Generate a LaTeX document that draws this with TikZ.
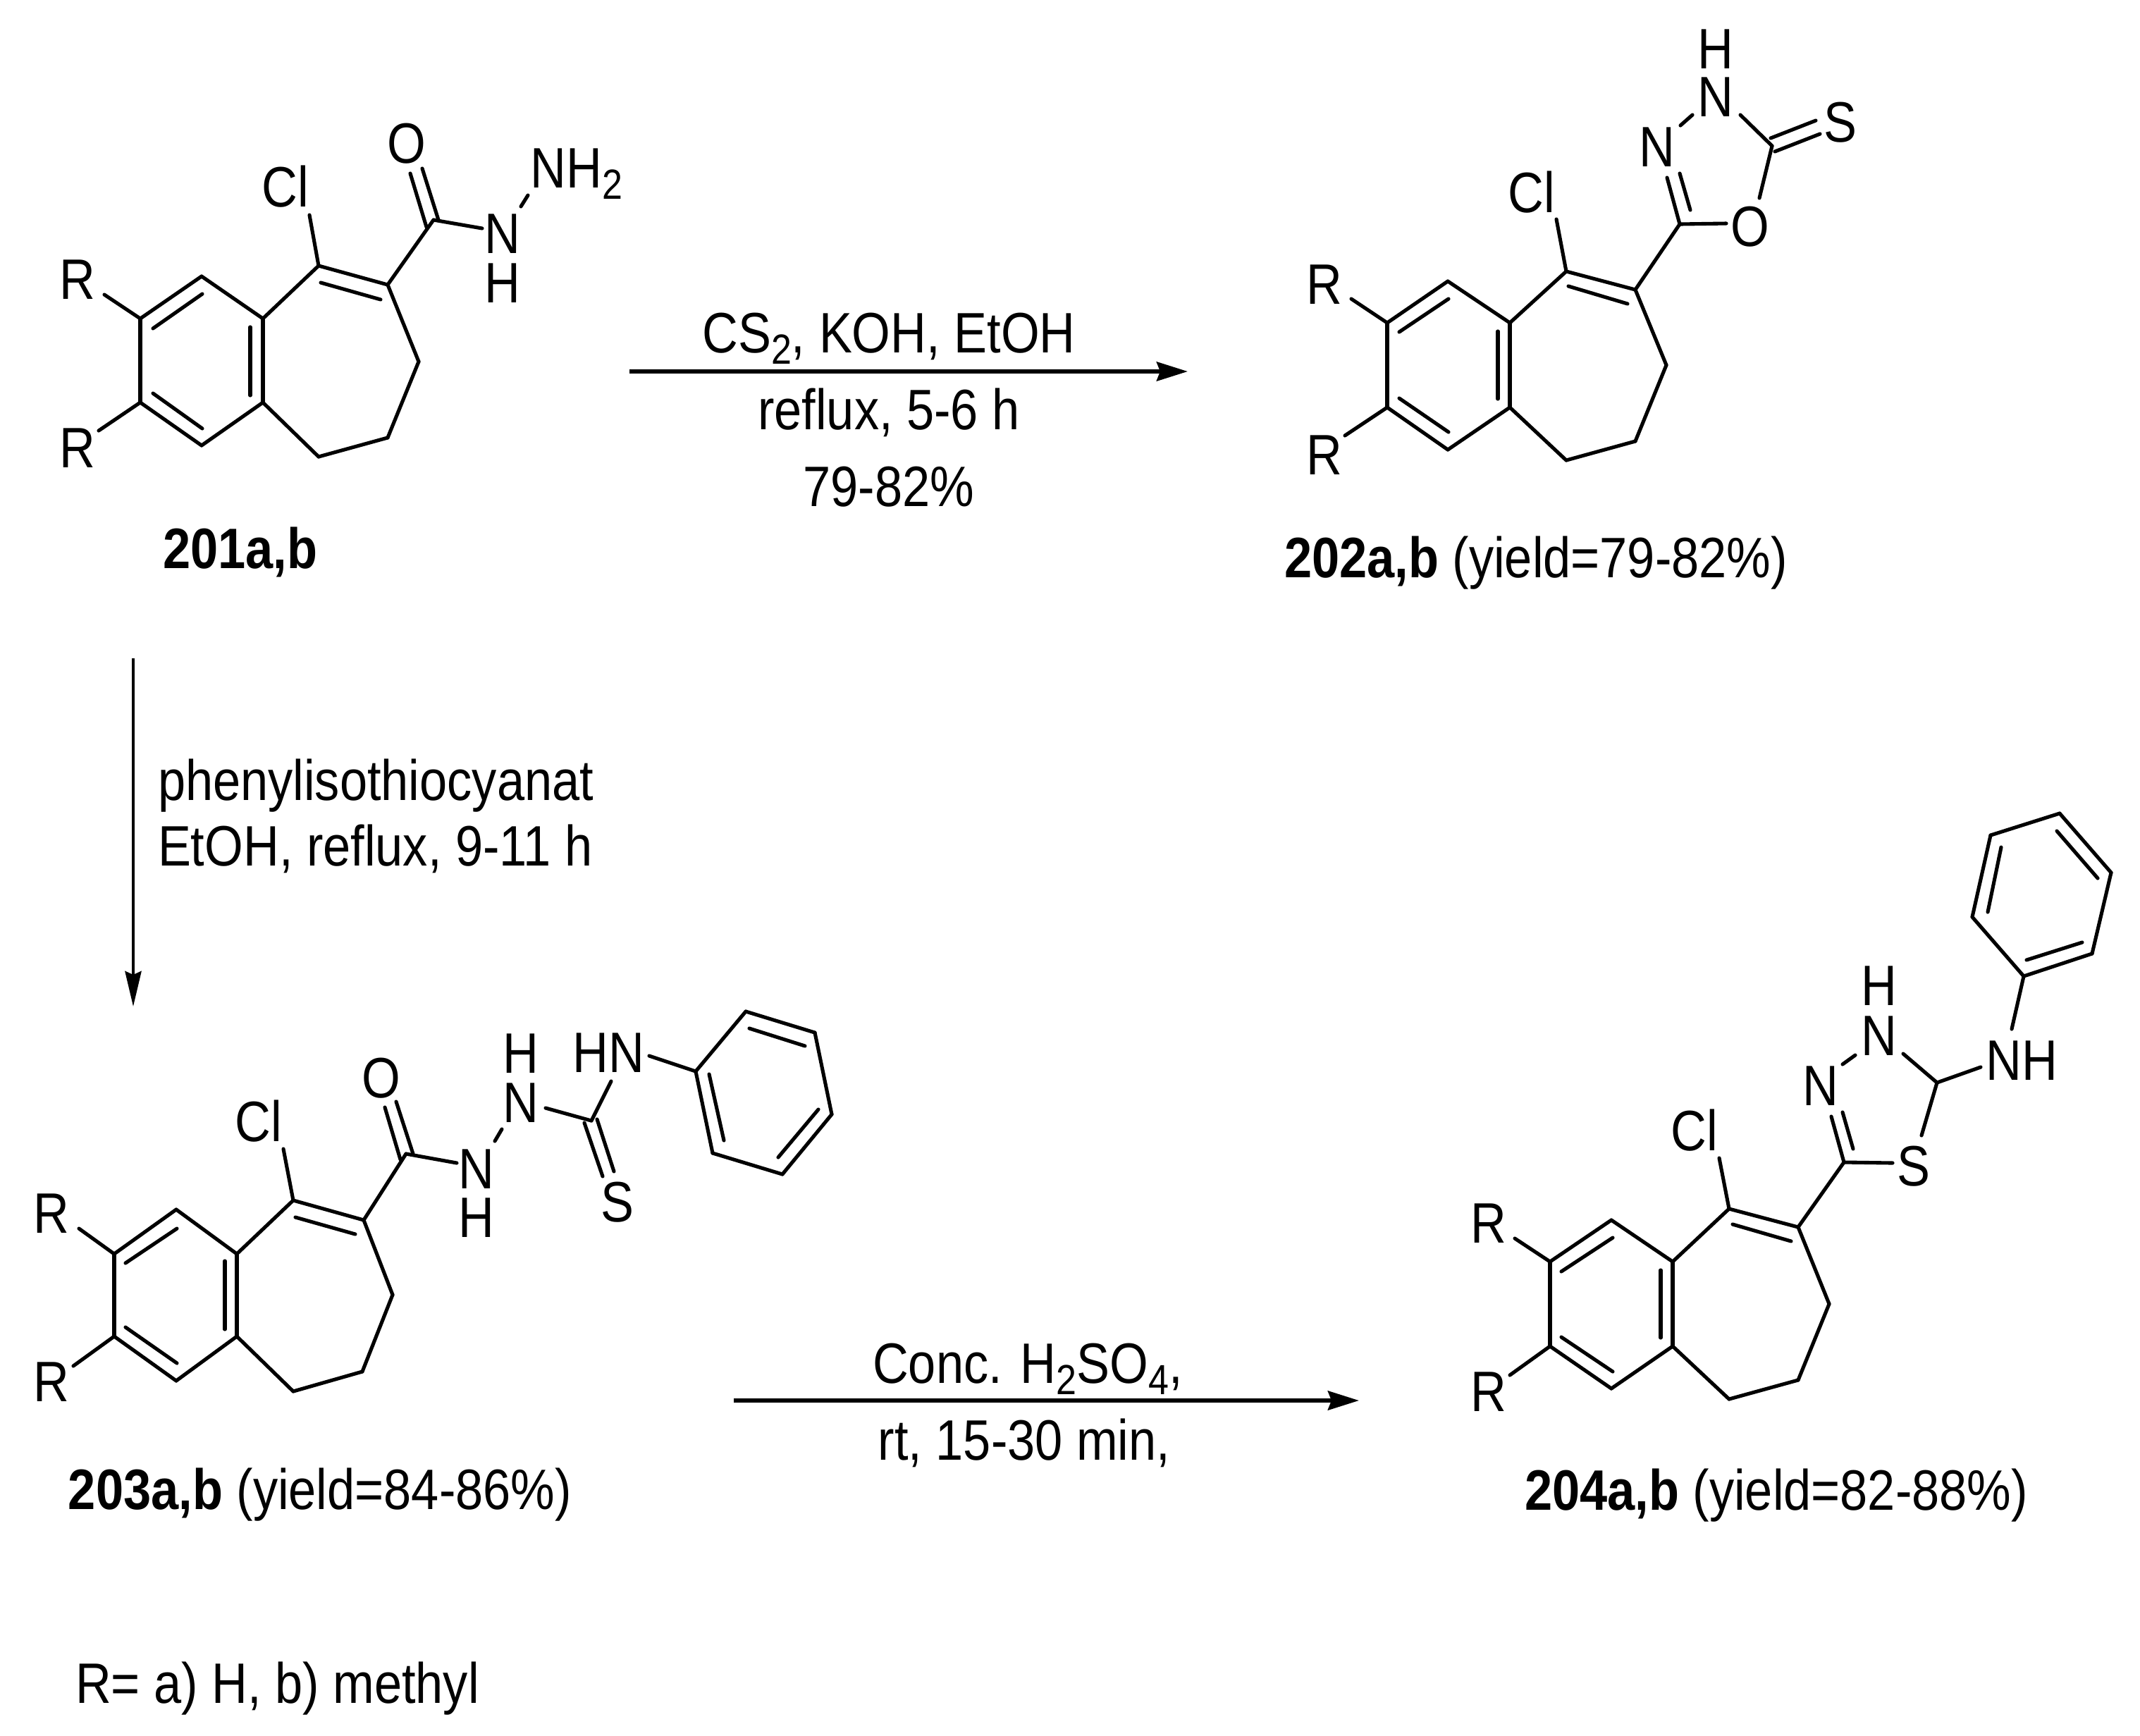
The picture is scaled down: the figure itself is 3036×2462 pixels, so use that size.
\documentclass[tikz,border=0pt]{standalone}
\usepackage{fontspec}
\usepackage{graphicx}
\setmainfont{Liberation Sans}
\usetikzlibrary{arrows.meta}
\newcommand\T[1]{\scalebox{.87}[1]{#1}}
\newcommand\Sub[1]{\raisebox{-4.6pt}{\fontsize{17}{17}\selectfont #1}}
\tikzset{
  bond/.style={line width=1.45pt,line cap=round,line join=round,black},
  rxnh/.style={line width=1.65pt,black,-{Stealth[length=0.44cm,width=0.27cm,inset=0.05cm]}},
  rxnv/.style={line width=1.3pt,black,-{Stealth[length=0.5cm,width=0.23cm,inset=0.05cm]}},
  txt/.style={font=\fontsize{23}{27}\selectfont,inner sep=0pt,outer sep=0pt,text=black},
  atom/.style={txt,anchor=base,yshift=-0.285cm},
  base w/.style={txt,anchor=base west},
  base c/.style={txt,anchor=base}
}
\begin{document}
\begin{tikzpicture}[x=0.01cm,y=-0.01cm]
\useasboundingbox (0,0) rectangle (3036,2462);
\fill[white] (0,0) rectangle (3036,2462);

% ---------- 201 ----------
\foreach \n/\x/\y in {a1/199/452,a2/286/392,a3/373/452,a4/373/571,a5/286/632,a6/199/571,a7/452/377,a8/550/404,a9/594/513,a10/550/621,a11/452/648,a12/615/312,
 ar1/148/418,ar2/140/611,acl/439/305,ai1/217/466,ai2/287/417,ai3/217/558,ai4/287/608,ai5/355/464,ai6/355/561,ai7/455/401,ai8/540/425,
 ao1/582/246,ao2/605/322,ao3/599/239,ao4/622/312,an1/684/324,ann1/739/293,ann2/749/277}
  \coordinate (\n) at (\x,\y);
\foreach \p/\q in {a1/a2,a2/a3,a3/a4,a4/a5,a5/a6,a6/a1,a3/a7,a7/a8,a8/a9,a9/a10,a10/a11,a11/a4,a8/a12,a1/ar1,a6/ar2,a7/acl,ai1/ai2,ai3/ai4,ai5/ai6,ai7/ai8,ao1/ao2,ao3/ao4,a12/an1,ann1/ann2}
  \draw[bond] (\p)--(\q);
\node[atom] (aR1) at (110,396) {\T{R}};
\node[atom] (aR2) at (110,635) {\T{R}};
\node[atom] (aCl) at (405,265) {\T{Cl}};
\node[atom] (aO) at (577,203) {\T{O}};
\node[atom] (aN) at (713,331) {\T{N}};
\node[atom] (aH) at (713,401) {\T{H}};
\node[atom] (aNH2) at (818,238) {\T{NH\Sub{2}}};
\node[base c] (alab) at (341,806) {\T{\textbf{201a,b}}};

% ---------- 202 ----------
\foreach \n/\x/\y in {b1/1968/458,b2/2054/399,b3/2142/458,b4/2142/578,b5/2054/638,b6/1968/578,b7/2222/385,b8/2320/411,b9/2364/518,b10/2320/626,b11/2222/653,b12/2383/318,b13/2514/207,
 br1/1917/424,br2/1908/618,bcl/2208/311,bi1/1985/471,bi2/2055/424,bi3/1985/565,bi4/2055/613,bi5/2125/470,bi6/2125/566,bi7/2225/406,bi8/2309/431,
 bo1/2449/317,bo2/2496/281,bn1/2469/163,bnn1/2384/178,bnn2/2401/163,bd1/2365/252,bd2/2398/298,bd3/2383/246,
 bs1/2512/196,bs2/2576/171,bs3/2518/215,bs4/2582/190}
  \coordinate (\n) at (\x,\y);
\foreach \p/\q in {b1/b2,b2/b3,b3/b4,b4/b5,b5/b6,b6/b1,b3/b7,b7/b8,b8/b9,b9/b10,b10/b11,b11/b4,b8/b12,b1/br1,b6/br2,b7/bcl,bi1/bi2,bi3/bi4,bi5/bi6,bi7/bi8,b12/bo1,bo2/b13,b13/bn1,bnn1/bnn2,b12/bd1,bd2/bd3,bs1/bs2,bs3/bs4}
  \draw[bond] (\p)--(\q);
\node[atom] (bR1) at (1879,403) {\T{R}};
\node[atom] (bR2) at (1879,645) {\T{R}};
\node[atom] (bCl) at (2173,273) {\T{Cl}};
\node[atom] (bO) at (2483,321) {\T{O}};
\node[atom] (bS) at (2611,173) {\T{S}};
\node[atom] (bN) at (2434,137) {\T{N}};
\node[atom] (bH) at (2434,69) {\T{H}};
\node[atom] (bN2) at (2351,208) {\T{N}};
\node[base w] (blab) at (1822,819) {\T{\textbf{202a,b} (yield=79-82\%)}};

% ---------- 203 ----------
\foreach \n/\x/\y in {c1/162/1779,c2/250/1716,c3/336/1779,c4/336/1896,c5/250/1959,c6/162/1896,c7/416/1703,c8/516/1731,c9/557/1837,c10/514/1946,c11/416/1974,c12/576/1637,c13/839/1590,
 cr1/112/1743,cr2/104/1938,ccl/402/1630,ci1/178/1792,ci2/251/1743,ci3/178/1883,ci4/251/1934,ci5/319/1789,ci6/319/1886,ci7/419/1727,ci8/504/1751,
 co1/546/1571,co2/568/1645,co3/562/1563,co4/586/1637,cn1/648/1650,cnn1/702/1619,cnn2/712/1602,cn2/774/1572,cn3/867/1534,
 cs1/829/1593,cs2/855/1669,cs3/847/1588,cs4/871/1662,cn4/921/1498,
 p1/987/1520,p2/1058/1435,p3/1156/1465,p4/1180/1581,p5/1110/1666,p6/1011/1636,
 pi1/1006/1524,pi2/1027/1618,pi3/1063/1459,pi4/1142/1484,pi5/1161/1574,pi6/1104/1642}
  \coordinate (\n) at (\x,\y);
\foreach \p/\q in {c1/c2,c2/c3,c3/c4,c4/c5,c5/c6,c6/c1,c3/c7,c7/c8,c8/c9,c9/c10,c10/c11,c11/c4,c8/c12,c1/cr1,c6/cr2,c7/ccl,ci1/ci2,ci3/ci4,ci5/ci6,ci7/ci8,co1/co2,co3/co4,c12/cn1,cnn1/cnn2,cn2/c13,cn3/c13,cs1/cs2,cs3/cs4,cn4/p1,p1/p2,p2/p3,p3/p4,p4/p5,p5/p6,p6/p1,pi1/pi2,pi3/pi4,pi5/pi6}
  \draw[bond] (\p)--(\q);
\node[atom] (cR1) at (73,1721) {\T{R}};
\node[atom] (cR2) at (73,1960) {\T{R}};
\node[atom] (cCl) at (367,1591) {\T{Cl}};
\node[atom] (cO) at (541,1529) {\T{O}};
\node[atom] (cN1) at (676,1658) {\T{N}};
\node[atom] (cH1) at (676,1727) {\T{H}};
\node[atom] (cN2) at (739,1564) {\T{N}};
\node[atom] (cH2) at (739,1494) {\T{H}};
\node[atom] (cHN) at (863,1493) {\T{HN}};
\node[atom] (cS) at (876,1705) {\T{S}};
\node[base w] (clab) at (97,2141) {\T{\textbf{203a,b} (yield=84-86\%)}};

% ---------- 204 ----------
\foreach \n/\x/\y in {d1/2199/1790,d2/2286/1731,d3/2373/1790,d4/2373/1910,d5/2286/1970,d6/2199/1910,d7/2453/1715,d8/2551/1741,d9/2595/1850,d10/2551/1958,d11/2453/1985,d12/2616/1649,d13/2748/1536,
 dr1/2149/1757,dr2/2142/1951,dcl/2439/1643,di1/2215/1804,di2/2288/1756,di3/2215/1897,di4/2288/1946,di5/2356/1802,di6/2356/1898,di7/2458/1737,di8/2541/1761,
 ds1/2685/1650,ds2/2726/1611,dd1/2598/1584,dd2/2629/1630,dd3/2614/1578,dnn1/2614/1510,dnn2/2632/1497,dn1/2700/1495,dn2/2810/1514,dn3/2854/1460,
 q1/2871/1385,q2/2798/1301,q3/2824/1185,q4/2922/1154,q5/2995/1238,q6/2968/1353,
 qi1/2875/1362,qi2/2954/1337,qi3/2820/1294,qi4/2839/1202,qi5/2918/1179,qi6/2976/1246}
  \coordinate (\n) at (\x,\y);
\foreach \p/\q in {d1/d2,d2/d3,d3/d4,d4/d5,d5/d6,d6/d1,d3/d7,d7/d8,d8/d9,d9/d10,d10/d11,d11/d4,d8/d12,d1/dr1,d6/dr2,d7/dcl,di1/di2,di3/di4,di5/di6,di7/di8,d12/ds1,ds2/d13,d12/dd1,dd2/dd3,dnn1/dnn2,dn1/d13,dn2/d13,dn3/q1,q1/q2,q2/q3,q3/q4,q4/q5,q5/q6,q6/q1,qi1/qi2,qi3/qi4,qi5/qi6}
  \draw[bond] (\p)--(\q);
\node[atom] (dR1) at (2112,1735) {\T{R}};
\node[atom] (dR2) at (2112,1974) {\T{R}};
\node[atom] (dCl) at (2404,1604) {\T{Cl}};
\node[atom] (dS) at (2715,1654) {\T{S}};
\node[atom] (dN1) at (2583,1540) {\T{N}};
\node[atom] (dN2) at (2666,1469) {\T{N}};
\node[atom] (dH) at (2666,1398) {\T{H}};
\node[atom] (dNH) at (2868,1504) {\T{NH}};
\node[base w] (dlab) at (2163,2142) {\T{\textbf{204a,b} (yield=82-88\%)}};

% ---------- arrows and conditions ----------
\coordinate (r1s) at (893,527); \coordinate (r1e) at (1685,527);
\coordinate (r2s) at (189,934); \coordinate (r2e) at (189,1428);
\coordinate (r3s) at (1041,1987); \coordinate (r3e) at (1928,1987);
\draw[rxnh] (r1s)--(r1e);
\draw[rxnv] (r2s)--(r2e);
\draw[rxnh] (r3s)--(r3e);
\node[base c] (t1) at (1261,500) {\T{CS\Sub{2}, KOH, EtOH}};
\node[base c] (t2) at (1261,609) {\T{reflux, 5-6 h}};
\node[base c] (t3) at (1261,718) {\T{79-82\%}};
\node[base w] (t4) at (224,1135) {\T{phenylisothiocyanat}};
\node[base w] (t5) at (224,1228) {\T{EtOH, reflux, 9-11 h}};
\node[base c] (t6) at (1458,1962) {\T{Conc. H\Sub{2}SO\Sub{4},}};
\node[base c] (t7) at (1453,2071) {\T{rt, 15-30 min,}};
\node[base w] (t8) at (107,2416) {\T{R= a) H, b) methyl}};
\end{tikzpicture}
\end{document}
